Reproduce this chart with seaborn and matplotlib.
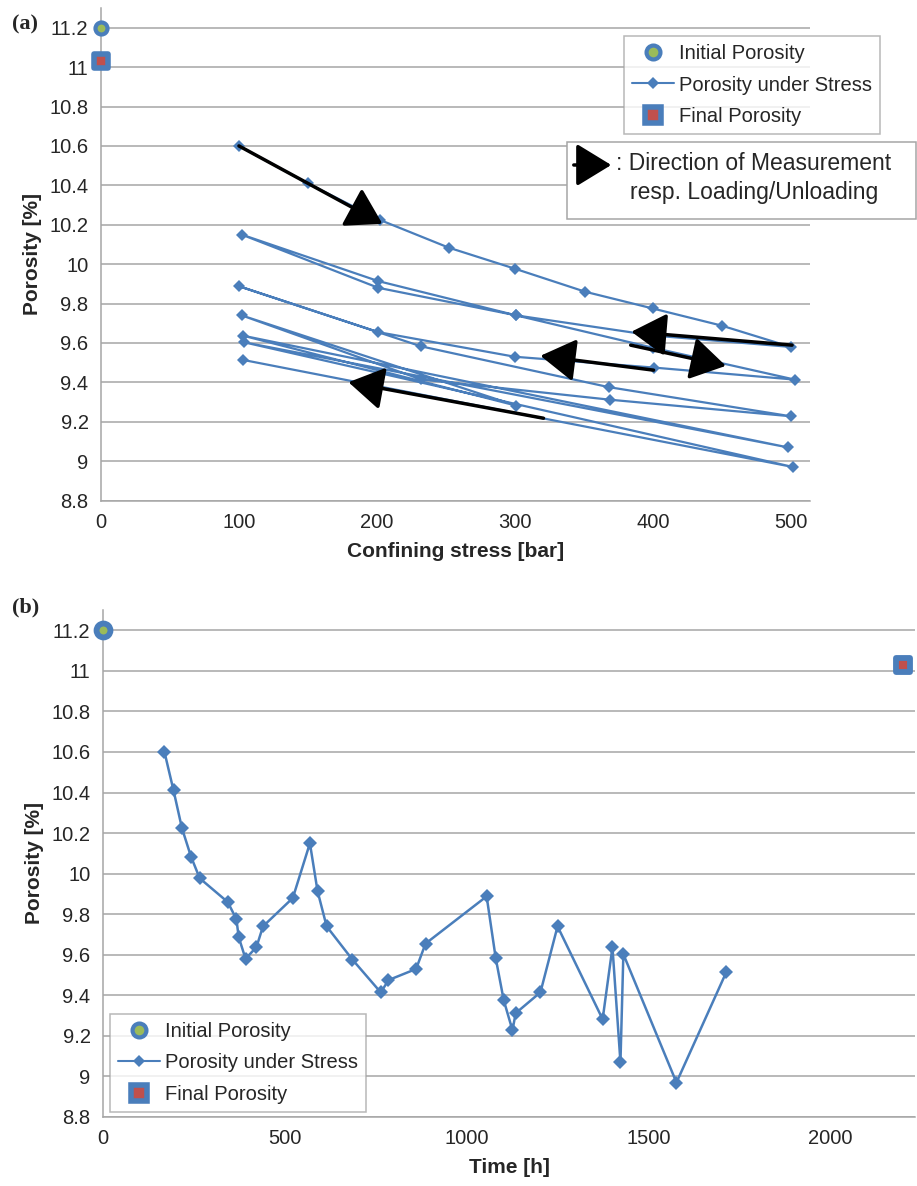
import matplotlib
matplotlib.use('Agg')
import matplotlib.pyplot as plt
import seaborn as sns
import pandas as pd
import numpy as np
from matplotlib.lines import Line2D
from matplotlib.patches import Rectangle

# ---------------- data ----------------
pressure_bar = [100, 150, 202, 252, 300, 351, 400, 450, 500,
                400, 301, 201, 102,
                201, 301, 400, 503,
                401, 300, 201, 100,
                232, 368, 500, 369, 232, 102,
                301, 103, 498, 104, 502, 103]
time_h = [169, 194, 217, 242, 266, 343, 367, 373, 392, 422, 440, 522, 569,
          590, 615, 686, 764, 785, 861, 887, 1055, 1080, 1102, 1126, 1135,
          1203, 1250, 1374, 1401, 1423, 1431, 1577, 1714]
porosity = [10.60, 10.41, 10.225, 10.084, 9.977, 9.86, 9.775, 9.688, 9.58,
            9.638, 9.74, 9.88, 10.15,
            9.914, 9.74, 9.576, 9.414,
            9.475, 9.53, 9.655, 9.888,
            9.583, 9.376, 9.228, 9.312, 9.415, 9.74,
            9.282, 9.637, 9.07, 9.603, 8.97, 9.514]
initial_porosity = 11.2
final_porosity = 11.03
initial_x = 0
final_pressure_x = 0
final_time_h = 2200

# direction arrows in panel (a): (tail), (head) in data units
arrow_tails = [(100, 10.60), (501, 9.589), (384, 9.589), (400.6, 9.462), (320.8, 9.218)]
arrow_heads = [(204, 10.205), (384.5, 9.657), (453, 9.484), (318.6, 9.535), (179.4, 9.401)]

yticks = [8.8, 9.0, 9.2, 9.4, 9.6, 9.8, 10.0, 10.2, 10.4, 10.6, 10.8, 11.0, 11.2]
xticks_a = [0, 100, 200, 300, 400, 500]
xticks_b = [0, 500, 1000, 1500, 2000]

legend_labels = ['Initial Porosity', 'Porosity under Stress', 'Final Porosity']

# ---------------- style ----------------
sns.set_style('white')
plt.rcParams['font.family'] = ['Liberation Sans', 'DejaVu Sans']

BLUE = '#4A7EBB'
GREEN = '#9BBB59'
RED = '#C0504D'
GRID = '#A6A6A6'

df = pd.DataFrame({'pressure': pressure_bar, 'time': time_h, 'porosity': porosity})
df_init = pd.DataFrame({'x': [initial_x], 'y': [initial_porosity]})
df_final_a = pd.DataFrame({'x': [final_pressure_x], 'y': [final_porosity]})
df_final_b = pd.DataFrame({'x': [final_time_h], 'y': [final_porosity]})

fig = plt.figure(figsize=(9.17, 11.86), dpi=100)
W, H = 917.0, 1186.0


def px_axes(l, t, r, b):
    return fig.add_axes([l / W, 1 - b / H, (r - l) / W, (b - t) / H])


ax_a = px_axes(101, 8, 810, 500.6)
ax_b = px_axes(103, 610, 915, 1117)


def style_axes(ax, xticks, xlim):
    ax.set_ylim(8.8, 11.3)
    ax.set_xlim(*xlim)
    ax.set_yticks(yticks)
    ax.set_yticklabels(['%g' % v for v in yticks])
    ax.set_xticks(xticks)
    ax.set_xticklabels(['%g' % v for v in xticks])
    for v in yticks:
        ax.axhline(v, color=GRID, lw=1.1, zorder=0)
    for s in ['top', 'right']:
        ax.spines[s].set_visible(False)
    for s in ['left', 'bottom']:
        ax.spines[s].set_color(GRID)
        ax.spines[s].set_linewidth(1.1)
    ax.tick_params(axis='both', which='both', direction='out', length=5,
                   color=GRID, width=1.1, labelsize=14.5, pad=4)


ARROW = '-|>,head_length=0.9,head_width=0.55'

# ---------------- panel (a) ----------------
sns.lineplot(data=df, x='pressure', y='porosity', sort=False, estimator=None,
             ax=ax_a, color=BLUE, lw=1.6, marker='D', markersize=6.5,
             markeredgewidth=0, zorder=3)
sns.scatterplot(data=df_init, x='x', y='y', ax=ax_a, marker='o', s=75,
                color=GREEN, edgecolor=BLUE, linewidth=3.0, zorder=5, clip_on=False)
sns.scatterplot(data=df_final_a, x='x', y='y', ax=ax_a, marker='s', s=95,
                color=RED, edgecolor=BLUE, linewidth=4.0, zorder=5, clip_on=False)
style_axes(ax_a, xticks_a, (0, 514))
ax_a.set_xlabel('Confining stress [bar]', fontsize=15, fontweight='bold', labelpad=7)
ax_a.set_ylabel('Porosity [%]', fontsize=15, fontweight='bold', labelpad=5)

for (x0, y0), (x1, y1) in zip(arrow_tails, arrow_heads):
    ax_a.annotate('', xy=(x1, y1), xytext=(x0, y0),
                  arrowprops=dict(arrowstyle=ARROW, mutation_scale=24, lw=2.5,
                                  color='black', shrinkA=0, shrinkB=0), zorder=6)


def make_handles():
    return [
        Line2D([], [], ls='none', marker='o', markersize=10, markerfacecolor=GREEN,
               markeredgecolor=BLUE, markeredgewidth=3),
        Line2D([], [], color=BLUE, lw=1.5, marker='D', markersize=6,
               markeredgewidth=0),
        Line2D([], [], ls='none', marker='s', markersize=11, markerfacecolor=RED,
               markeredgecolor=BLUE, markeredgewidth=4),
    ]


leg_kw = dict(borderaxespad=0, fontsize=14.5, frameon=True, fancybox=False,
              edgecolor=GRID, labelspacing=0.62, handlelength=2.1,
              handletextpad=0.25, borderpad=0.4)

leg_a = ax_a.legend(make_handles(), legend_labels, loc='upper left',
                    bbox_to_anchor=((624 - 101) / 709, 1 - (36 - 8) / 492.6), **leg_kw)
leg_a.get_frame().set_linewidth(1.1)
leg_a.set_zorder(10)

# direction-of-measurement box
box = Rectangle((567 / W, 1 - 219 / H), 349 / W, 77 / H, transform=fig.transFigure,
                facecolor='white', edgecolor=GRID, lw=1.1, zorder=20)
fig.add_artist(box)
fig.add_artist(matplotlib.patches.FancyArrowPatch(
    (571 / W, 1 - 165 / H), (614 / W, 1 - 165 / H), transform=fig.transFigure,
    arrowstyle=ARROW, mutation_scale=24, lw=2.5, color='black', zorder=21))
fig.text(616 / W, 1 - 164 / H, ': Direction of Measurement', fontsize=16.5,
         va='center', ha='left', zorder=22)
fig.text(630 / W, 1 - 192 / H, 'resp. Loading/Unloading', fontsize=16.5,
         va='center', ha='left', zorder=22)

# ---------------- panel (b) ----------------
sns.lineplot(data=df, x='time', y='porosity', sort=False, estimator=None,
             ax=ax_b, color=BLUE, lw=1.8, marker='D', markersize=7.5,
             markeredgewidth=0, zorder=3)
sns.scatterplot(data=df_init, x='x', y='y', ax=ax_b, marker='o', s=100,
                color=GREEN, edgecolor=BLUE, linewidth=4.2, zorder=5, clip_on=False)
sns.scatterplot(data=df_final_b, x='x', y='y', ax=ax_b, marker='s', s=95,
                color=RED, edgecolor=BLUE, linewidth=4.2, zorder=5, clip_on=False)
style_axes(ax_b, xticks_b, (0, 2233))
ax_b.set_xlabel('Time [h]', fontsize=15, fontweight='bold', labelpad=7)
ax_b.set_ylabel('Porosity [%]', fontsize=15, fontweight='bold', labelpad=5)

leg_b = ax_b.legend(make_handles(), legend_labels, loc='lower left',
                    bbox_to_anchor=((110 - 103) / 812, (1117 - 1112) / 507), **leg_kw)
leg_b.get_frame().set_linewidth(1.1)
leg_b.set_zorder(10)

# panel letters
fig.text(12 / W, 1 - 24 / H, '(a)', fontsize=16, fontweight='bold', va='center',
         ha='left', family=['Liberation Serif', 'DejaVu Serif'])
fig.text(12 / W, 1 - 607 / H, '(b)', fontsize=16, fontweight='bold', va='center',
         ha='left', family=['Liberation Serif', 'DejaVu Serif'])

fig.savefig('out.png', dpi=100)
